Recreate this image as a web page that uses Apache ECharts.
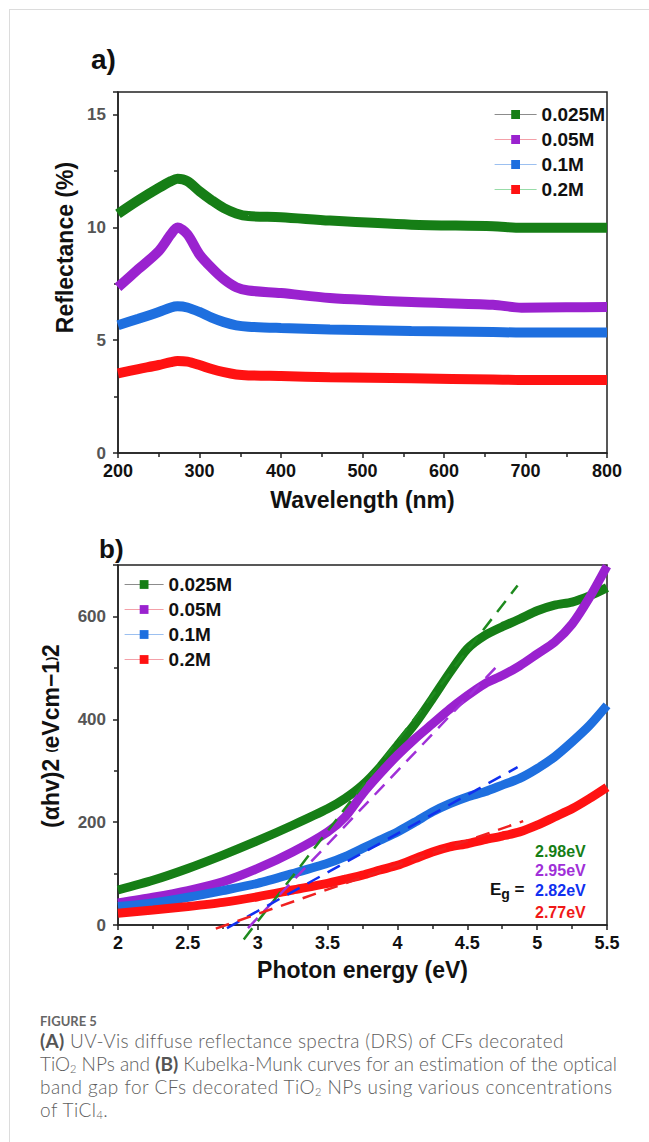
<!DOCTYPE html>
<html><head><meta charset="utf-8">
<script src="https://cdn.jsdelivr.net/npm/echarts@6/dist/echarts.min.js"></script>
<style>
html,body{margin:0;padding:0;background:#fff;width:649px;height:1142px;overflow:hidden;}
#frame{position:absolute;left:9px;top:9px;width:640px;height:1133px;border-top:1px solid #dcdcdc;border-left:1px solid #dcdcdc;}
#chart{position:absolute;left:0;top:0;width:649px;height:1000px;}
.cap{position:absolute;left:40px;white-space:nowrap;font-family:'Lato';color:#5e5e5e;font-size:19px;font-weight:300;line-height:23px;}
.cap b{font-weight:700;color:#555;}
.fig{font-size:13px;font-weight:700;color:#666;line-height:15px;}
.cap sub{font-size:11px;line-height:11px;vertical-align:-2px;}
</style></head>
<body>
<div id="frame"></div>
<div id="chart"></div>
<div class="cap fig" style="top:1014px">FIGURE 5</div>
<div class="cap" id="l1" style="top:1029px"><b>(A)</b> UV-Vis diffuse reflectance spectra (DRS) of CFs decorated</div>
<div class="cap" id="l2" style="top:1052px">TiO<sub>2</sub> NPs and <b>(B)</b> Kubelka-Munk curves for an estimation of the optical</div>
<div class="cap" id="l3" style="top:1075px">band gap for CFs decorated TiO<sub>2</sub> NPs using various concentrations</div>
<div class="cap" id="l4" style="top:1098px">of TiCl<sub>4</sub>.</div>
<script>
// ---- Panel a: reflectance ----
const seriesNames = ['0.025M', '0.05M', '0.1M', '0.2M'];
const wavelength = [200,225,250,265,273,285,300,315,330,345,360,400,460,560,660,695,750,800];
const refl025 = [10.6,11.2,11.75,12.05,12.15,12.05,11.6,11.2,10.85,10.62,10.5,10.45,10.3,10.12,10.05,9.98,9.98,9.98];
const refl05  = [7.35,8.15,8.95,9.7,10.0,9.7,8.8,8.2,7.7,7.35,7.2,7.09,6.87,6.69,6.57,6.44,6.46,6.47];
const refl1   = [5.66,5.95,6.25,6.45,6.5,6.45,6.25,6.0,5.8,5.66,5.6,5.54,5.47,5.41,5.36,5.34,5.34,5.34];
const refl2   = [3.53,3.72,3.9,4.03,4.08,4.05,3.9,3.72,3.58,3.48,3.44,3.41,3.36,3.31,3.26,3.24,3.24,3.24];

// ---- Panel b: Kubelka-Munk ----
const energy = [2.0,2.25,2.5,2.75,3.0,3.25,3.5,3.625,3.75,3.875,4.0,4.125,4.25,4.375,4.5,4.625,4.75,4.875,5.0,5.125,5.25,5.375,5.5];
const km025 = [68,87,110,136,164,194,226,246,272,307,349,391,440,491,537,563,580,595,611,622,628,640,656];
const km05  = [43,54,67,84,110,142,181,210,255,294,330,362,391,420,446,469,485,504,527,550,585,637,698];
const km1   = [36,43,54,67,81,100,120,133,149,165,181,200,220,236,249,259,272,285,304,327,356,388,427];
const km2   = [23,29,36,44,55,68,81,89,97,107,116,129,142,152,158,166,173,181,194,210,226,246,268];

// tangent (Tauc) lines: [x0, y0, x1, y1]
const fit025 = [2.90, -28, 4.86, 660];
const fit05  = [2.93, -6, 4.74, 511];
const fit1   = [2.78, -6, 4.86, 307];
const fit2   = [2.70, -7, 4.90, 202];
const bandGaps = ['2.98eV', '2.95eV', '2.82eV', '2.77eV'];

const curveColors = ['#167e16', '#9a22cf', '#1e6fdf', '#ff1212'];
const fitColors = ['#1e8a1e', '#a030d8', '#1030f0', '#f02020'];
const legendLineA = ['#8c8c8c', '#f4a0a8', '#9cc0f0', '#98dca8'];
const legendLineB = ['#8c8c8c', '#f4a0a8', '#9cc0f0', '#f4a0a8'];

const pair = (xs, ys) => xs.map((x, i) => [x, ys[i]]);
const reflData = [refl025, refl05, refl1, refl2];
const kmData = [km025, km05, km1, km2];
const fits = [fit025, fit05, fit1, fit2];

const axisLineStyle = { color: '#222', width: 1.5 };
const bold = 'Liberation Sans';

function xAxisCfg(gi, min, max, interval, name, gap) {
  return {
    gridIndex: gi, type: 'value', min, max, interval,
    name, nameLocation: 'middle', nameGap: gap,
    nameTextStyle: { fontFamily: bold, fontWeight: 'bold', fontSize: 23, color: '#111' },
    axisLine: { onZero: false, lineStyle: axisLineStyle },
    axisTick: { show: true, inside: false, length: 5, lineStyle: axisLineStyle },
    minorTick: { show: true, splitNumber: 2, length: 4, lineStyle: { color: '#222', width: 1.5 } },
    axisLabel: { fontFamily: bold, fontWeight: 'bold', fontSize: 18, color: '#111', margin: 9 },
    splitLine: { show: false }
  };
}
function yAxisCfg(gi, min, max, interval, name, gap, pad, rich) {
  return {
    gridIndex: gi, type: 'value', min, max, interval,
    name, nameLocation: 'middle', nameGap: gap,
    nameTextStyle: { fontFamily: bold, fontWeight: 'bold', fontSize: 23, color: '#111', padding: pad, rich: rich },
    axisLine: { onZero: false, lineStyle: axisLineStyle },
    axisTick: { show: true, inside: false, length: 5, lineStyle: axisLineStyle },
    minorTick: { show: true, splitNumber: 2, length: 4, lineStyle: { color: '#222', width: 1.5 } },
    axisLabel: { fontFamily: bold, fontWeight: 'bold', fontSize: 17, color: '#555', margin: 12, showMaxLabel: false },
    splitLine: { show: false }
  };
}

const series = [];
seriesNames.forEach((n, i) => {
  series.push({
    name: n, type: 'line', xAxisIndex: 0, yAxisIndex: 0,
    data: pair(wavelength, reflData[i]), smooth: 0.3,
    symbol: 'rect', showSymbol: false, symbolSize: 8,
    lineStyle: { color: curveColors[i], width: 10 }, itemStyle: { color: curveColors[i] },
    z: 3
  });
});
seriesNames.forEach((n, i) => {
  series.push({
    name: n, type: 'line', xAxisIndex: 1, yAxisIndex: 1,
    data: pair(energy, kmData[i]), smooth: 0.25,
    symbol: 'rect', showSymbol: false, symbolSize: 8,
    lineStyle: { color: curveColors[i], width: 9 }, itemStyle: { color: curveColors[i] },
    z: 3
  });
});
fits.forEach((f, i) => {
  series.push({
    name: 'fit ' + seriesNames[i], type: 'line', xAxisIndex: 1, yAxisIndex: 1,
    data: [[f[0], f[1]], [f[2], f[3]]], showSymbol: false, clip: false,
    lineStyle: { color: fitColors[i], width: 2.5, type: [14, 9] }, z: 4, silent: true
  });
});

const legendText = { fontFamily: bold, fontWeight: 'bold', fontSize: 19, color: '#111' };
function legendCfg(left, top, width, lineColors) {
  return {
    orient: 'vertical', left, top, itemWidth: width, itemHeight: 11, itemGap: 6,
    textStyle: legendText, selectedMode: false,
    data: seriesNames.map((n, i) => ({
      name: n,
      itemStyle: { color: curveColors[i] },
      lineStyle: { color: lineColors[i], width: 1.2 }
    }))
  };
}

const egStyle = (c) => ({ fontFamily: bold, fontWeight: 'bold', fontSize: 16, fill: c });

const option = {
  animation: false,
  backgroundColor: 'transparent',
  title: [
    { text: 'a)', left: 86, top: 40, textStyle: { fontFamily: bold, fontWeight: 'bold', fontSize: 28, color: '#111' } },
    { text: 'b)', left: 94, top: 531, textStyle: { fontFamily: bold, fontWeight: 'bold', fontSize: 26, color: '#111' } }
  ],
  grid: [
    { left: 118, top: 92, width: 489, height: 361, show: true, borderColor: '#222', borderWidth: 1.5, backgroundColor: 'transparent' },
    { left: 118, top: 565, width: 489, height: 360, show: true, borderColor: '#222', borderWidth: 1.5, backgroundColor: 'transparent' }
  ],
  xAxis: [
    xAxisCfg(0, 200, 800, 100, 'Wavelength (nm)', 35),
    xAxisCfg(1, 2, 5.5, 0.5, 'Photon energy (eV)', 33)
  ],
  yAxis: [
    yAxisCfg(0, 0, 16, 5, 'Reflectance (%)', 38, [0, 0, 0, 50]),
    yAxisCfg(1, 0, 700, 200, '(αhv)2 {s|(}eVcm−1{s|)}2', 56, [0, 0, 0, 18],
      { s: { fontFamily: bold, fontWeight: 'bold', fontSize: 12, color: '#111' } })
  ],
  legend: [
    legendCfg(489, 100, 42, legendLineA),
    legendCfg(119, 570, 39, legendLineB)
  ],
  graphic: [
    { type: 'text', left: 535, top: 843, style: Object.assign({ text: bandGaps[0] }, egStyle(curveColors[0])) },
    { type: 'text', left: 535, top: 862, style: Object.assign({ text: bandGaps[1] }, egStyle('#a030d8')) },
    { type: 'text', left: 535, top: 882, style: Object.assign({ text: bandGaps[2] }, egStyle('#1030f0')) },
    { type: 'text', left: 535, top: 904, style: Object.assign({ text: bandGaps[3] }, egStyle('#f01818')) },
    { type: 'text', left: 490, top: 881, style: {
        text: 'E{sub|g} =', fontFamily: bold, fontWeight: 'bold', fontSize: 17, fill: '#111',
        rich: { sub: { fontFamily: bold, fontWeight: 'bold', fontSize: 14, fill: '#111', padding: [8, 0, 0, 0] } }
    } }
  ],
  series
};

const chart = echarts.init(document.getElementById('chart'), null, { renderer: 'svg' });
chart.setOption(option);

// stretch caption lines to the widths seen in the reference (letter-spacing only)
const targetW = { l1: 523, l2: 578, l3: 573 };
Object.keys(targetW).forEach(id => {
  const el = document.getElementById(id);
  const w = el.getBoundingClientRect().width;
  const n = el.textContent.length;
  el.style.letterSpacing = ((targetW[id] - w) / n).toFixed(3) + 'px';
});
document.getElementById('l4').style.letterSpacing = document.getElementById('l3').style.letterSpacing;
</script>
</body></html>
